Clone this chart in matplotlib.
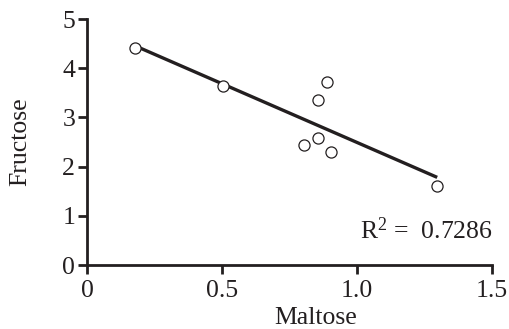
import numpy as np
import matplotlib
matplotlib.use("Agg")
import matplotlib.pyplot as plt

# Data
maltose = [0.178, 0.503, 0.888, 0.855, 0.855, 0.804, 0.903, 1.298]
fructose = [4.42, 3.64, 3.71, 3.35, 2.58, 2.43, 2.30, 1.61]
x_ticks = [0, 0.5, 1.0, 1.5]
x_tick_labels = ["0", "0.5", "1.0", "1.5"]
y_ticks = [0, 1, 2, 3, 4, 5]
y_tick_labels = ["0", "1", "2", "3", "4", "5"]
r2_label = r"R$\mathregular{^2}$ =  0.7286"

ink = "#231f20"
plt.rcParams['font.family'] = ['Liberation Serif', 'DejaVu Serif']
plt.rcParams['mathtext.fontset'] = 'custom'
plt.rcParams['mathtext.rm'] = 'Liberation Serif'

fs = 18.5
fig = plt.figure(figsize=(5.09, 3.29), dpi=100)
ax = fig.add_axes([0.1709, 0.1945, 0.966 - 0.1709, 0.9422 - 0.1945])

x = np.array(maltose)
y = np.array(fructose)
slope, intercept = np.polyfit(x, y, 1)
xs = np.array([x.min(), x.max()])
ax.plot(xs, slope * xs + intercept, color=ink, lw=2.4, solid_capstyle='butt', zorder=2)
ax.plot(x, y, 'o', ms=8, mfc='white', mec=ink, mew=0.9, zorder=3, clip_on=False)

ax.set_xlim(0, 1.5)
ax.set_ylim(0, 5)
ax.set_xticks(x_ticks)
ax.set_xticklabels(x_tick_labels)
ax.set_yticks(y_ticks)
ax.set_yticklabels(y_tick_labels)

for s in ['top', 'right']:
    ax.spines[s].set_visible(False)
for s in ['left', 'bottom']:
    ax.spines[s].set_linewidth(2.0)
    ax.spines[s].set_color(ink)
    ax.spines[s].set_capstyle('projecting')
ax.tick_params(direction='out', length=6.5, width=2.0, color=ink,
               labelsize=fs, labelcolor=ink)
ax.tick_params(axis='x', pad=4)
ax.tick_params(axis='y', pad=2)

ax.set_xlabel("Maltose", fontsize=fs, color=ink)
ax.xaxis.set_label_coords(0.565, -0.172)
ax.set_ylabel("Fructose", fontsize=fs, color=ink)
ax.yaxis.set_label_coords(-0.138, 0.5)

ax.text(1.504, 0.53, r2_label, ha='right', va='baseline', fontsize=fs, color=ink)

fig.savefig("out.png", dpi=100)
